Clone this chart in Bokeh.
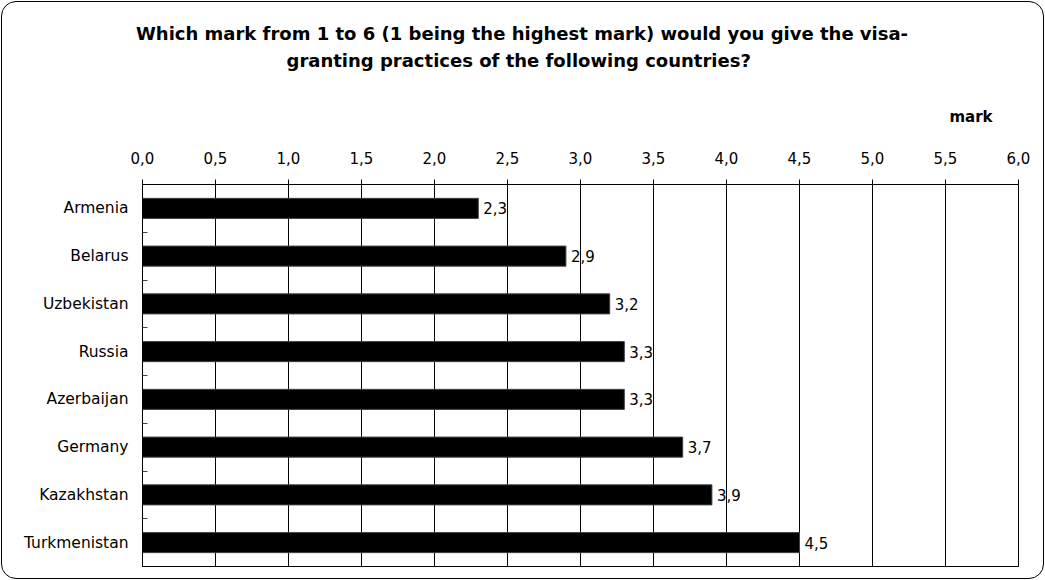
from bokeh.plotting import figure
from bokeh.models import (Range1d, FixedTicker, CustomJSTickFormatter, Title,
                          ColumnDataSource, InlineStyleSheet)
from bokeh.embed import file_html
from bokeh.resources import INLINE
from bokeh.core.properties import value

# Survey results: mean mark per country (1 = best, 6 = worst)
countries = ["Armenia", "Belarus", "Uzbekistan", "Russia", "Azerbaijan",
             "Germany", "Kazakhstan", "Turkmenistan"]
marks = [2.3, 2.9, 3.2, 3.3, 3.3, 3.7, 3.9, 4.5]
x_ticks = [0.0, 0.5, 1.0, 1.5, 2.0, 2.5, 3.0, 3.5, 4.0, 4.5, 5.0, 5.5, 6.0]
title_lines = ["Which mark from 1 to 6 (1 being the highest mark) would you give the visa-",
               "granting practices of the following countries?"]
axis_title = "mark"

FONT = "DejaVu Sans"

rows = [i + 0.5 for i in range(len(countries))]
row_bounds = [float(i) for i in range(1, len(countries))]
labels = [f"{m:.1f}".replace(".", ",") for m in marks]

src = ColumnDataSource(dict(y=rows, mark=marks, label=labels, country=countries))

p = figure(width=1045, height=580, output_backend="svg", toolbar_location=None,
           x_range=Range1d(0, 6), y_range=Range1d(len(countries), 0),
           x_axis_location="above",
           min_border_left=142, min_border_right=27,
           min_border_top=184, min_border_bottom=14)
p.background_fill_color = "white"
p.border_fill_color = None
p.outline_line_color = "black"
p.outline_line_width = 1
# rounded frame drawn around the whole chart (shows through the transparent border area)
p.stylesheets = [InlineStyleSheet(css=":host { background: #fff; "
                                      "outline: 1px solid #000; outline-offset: -2px; "
                                      "border-radius: 16px; }")]

# horizontal bars
p.hbar(y="y", left=0, right="mark", height=0.42, source=src,
       fill_color="black", line_color="#404040", line_width=1)

# value labels at bar ends
p.text(x="mark", y="y", text="label", source=src, x_offset=5,
       text_font=value(FONT), text_font_size="15px", text_color="black",
       text_align="left", text_baseline="middle")

# top value axis
xa = p.xaxis[0]
xa.ticker = FixedTicker(ticks=x_ticks)
xa.formatter = CustomJSTickFormatter(code="return tick.toFixed(1).replace('.', ',')")
xa.major_label_text_font = FONT
xa.major_label_text_font_size = "15px"
xa.major_label_text_color = "black"
xa.major_label_standoff = 16
xa.major_tick_out = 5
xa.major_tick_in = 0
xa.minor_tick_out = 0
xa.minor_tick_in = 0
xa.axis_line_color = "black"
xa.major_tick_line_color = "black"

# category axis on the left
ya = p.yaxis[0]
ya.ticker = FixedTicker(ticks=rows, minor_ticks=row_bounds)
ya.major_label_overrides = {r: c for r, c in zip(rows, countries)}
ya.major_label_text_font = FONT
ya.major_label_text_font_size = "15.5px"
ya.major_label_text_color = "black"
ya.major_label_standoff = 14
ya.major_tick_out = 0
ya.major_tick_in = 0
ya.minor_tick_in = 5
ya.minor_tick_out = 0
ya.minor_tick_line_color = "#444444"
ya.axis_line_color = "black"

p.xgrid.ticker = FixedTicker(ticks=x_ticks)
p.xgrid.grid_line_color = "black"
p.xgrid.grid_line_width = 1
p.ygrid.grid_line_color = None

# unit caption above the axis, then the two title lines
p.add_layout(Title(text=axis_title, align="right", offset=26, standoff=46,
                   text_font=FONT, text_font_size="15px", text_font_style="bold",
                   text_color="black"), "above")
p.add_layout(Title(text=title_lines[1], align="left", offset=144, standoff=24,
                   text_font=FONT, text_font_size="18px", text_font_style="bold",
                   text_color="black"), "above")
p.add_layout(Title(text=title_lines[0], align="left", offset=-6.5, standoff=-16,
                   text_font=FONT, text_font_size="18px", text_font_style="bold",
                   text_color="black"), "above")

open("out.html", "w").write(file_html(p, INLINE))
